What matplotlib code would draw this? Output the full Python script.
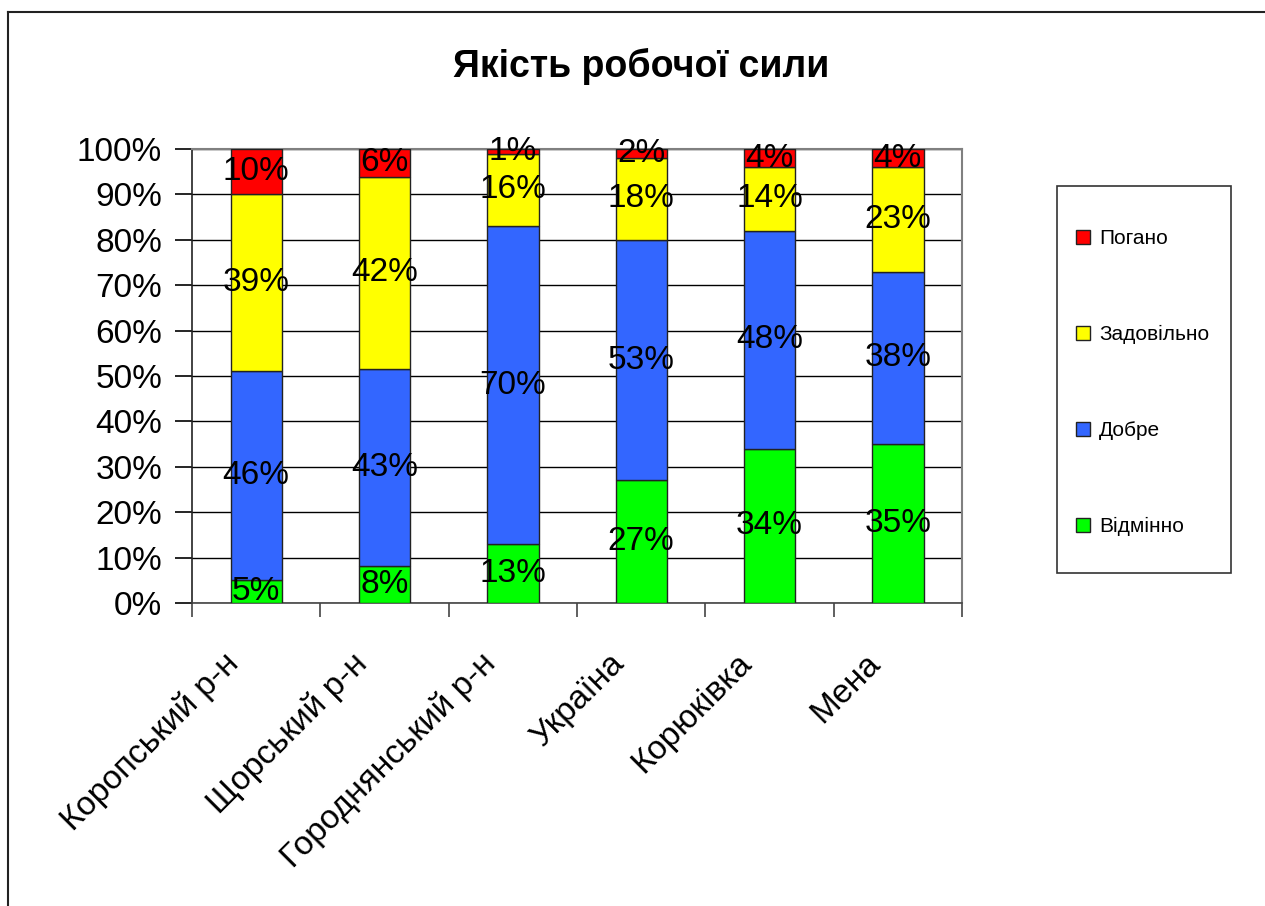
import matplotlib
matplotlib.use("Agg")
import matplotlib.pyplot as plt
import numpy as np
from matplotlib.ticker import PercentFormatter, FixedLocator
from matplotlib.lines import Line2D
from matplotlib.patches import Rectangle

plt.rcParams['font.family'] = ['Liberation Sans', 'DejaVu Sans']

# Data (percent labels)
categories = ["Коропський р-н", "Щорський р-н", "Городнянський р-н",
              "Україна", "Корюківка", "Мена"]
vidminno = [5, 8, 13, 27, 34, 35]
dobre = [46, 43, 70, 53, 48, 38]
zadovilno = [39, 42, 16, 18, 14, 23]
pogano = [10, 6, 1, 2, 4, 4]

series = [("Відмінно", vidminno, "#00FF00"),
          ("Добре", dobre, "#3366FF"),
          ("Задовільно", zadovilno, "#FFFF00"),
          ("Погано", pogano, "#FF0000")]

W, H = 1265, 906
fig = plt.figure(figsize=(W / 100, H / 100), dpi=100)
ax = fig.add_axes([192 / W, 1 - 603 / H, (962 - 192) / W, (603 - 149) / H])

x = np.arange(len(categories))
totals = np.sum([s[1] for s in series], axis=0)
bottom = np.zeros(len(categories))

handles = []
for name, vals, color in series:
    share = np.array(vals) / totals * 100  # 100% stacked
    bars = ax.bar(x, share, width=0.4, bottom=bottom, color=color,
                  edgecolor="#222222", linewidth=1.0, label=name, zorder=3)
    ax.bar_label(bars, labels=[f"{v}%" for v in vals], label_type="center",
                 fontsize=24, color="black", zorder=5)
    bottom += share
    handles.append(bars)

ax.set_xlim(-0.5, len(categories) - 0.5)
ax.set_ylim(0, 100)
ax.yaxis.set_major_locator(FixedLocator(np.arange(0, 101, 10)))
ax.yaxis.set_major_formatter(PercentFormatter(decimals=0))
ax.grid(axis="y", color="black", linewidth=1.0, zorder=0)

# category labels, rotated like the Excel original
ax.set_xticks(x)
ax.set_xticklabels([])
for i, cat in enumerate(categories):
    ax.annotate(cat, xy=(i, 0), xycoords=ax.get_xaxis_transform(),
                xytext=(-16, -40), textcoords="offset points",
                rotation=45, ha="right", va="center", rotation_mode="anchor",
                fontsize=24, annotation_clip=False)
ax.xaxis.set_minor_locator(FixedLocator(np.arange(-0.5, len(categories), 1)))
ax.tick_params(axis="x", which="major", length=0)
ax.tick_params(axis="x", which="minor", length=10, width=1.2, color="#444444")
ax.tick_params(axis="y", length=12, width=1.2, labelsize=24, pad=9.5)

for side in ["top", "right"]:
    ax.spines[side].set_color("#808080")
    ax.spines[side].set_linewidth(1.5)
ax.spines["left"].set_color("#222222")
ax.spines["bottom"].set_color("#444444")
ax.spines["left"].set_linewidth(1.2)
ax.spines["bottom"].set_linewidth(1.2)

fig.text(641 / W, 1 - 66 / H, "Якість робочої сили", ha="center", va="center",
         fontsize=27, fontweight="bold")

# legend box
fig.add_artist(Rectangle((1057 / W, 1 - 573 / H), (1231 - 1057) / W, (573 - 186) / H,
                         transform=fig.transFigure, facecolor="white",
                         edgecolor="#333333", linewidth=1.2))
leg = fig.legend(handles[::-1], [s[0] for s in series][::-1],
                 loc="upper left", bbox_to_anchor=(1076 / W, 1 - 229 / H),
                 fontsize=15, frameon=False,
                 handlelength=0.65, handleheight=0.65,
                 handletextpad=0.45, labelspacing=3.7, borderpad=0,
                 borderaxespad=0)

# outer chart border (left and top edges visible)
fig.add_artist(Line2D([8 / W, 8 / W], [0, 1 - 12 / H], color="#222222", lw=1.5))
fig.add_artist(Line2D([8 / W, 1], [1 - 12 / H, 1 - 12 / H], color="#222222", lw=1.5))

fig.savefig("out.png", dpi=100)
